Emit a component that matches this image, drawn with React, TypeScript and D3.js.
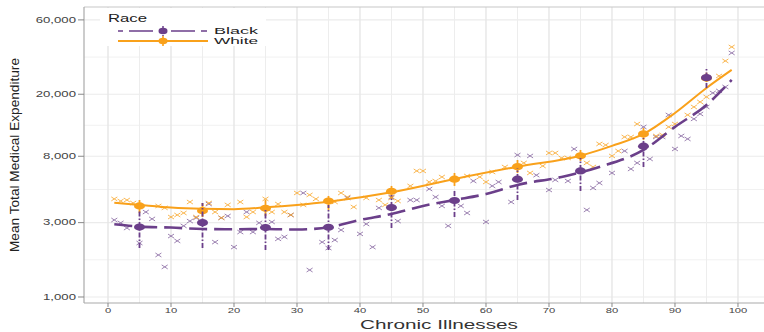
import React from "react";
import * as d3 from "d3";

// x positions of the binned means
const meanX = [5, 15, 25, 35, 45, 55, 65, 75, 85, 95];

const blackMean = [2810, 3000, 2790, 2800, 3750, 4160, 5700, 6440, 9280, 25560];
const blackLo = [2060, 2060, 2000, 2000, 2770, 3260, 4190, 4790, 6830, 21950];
const blackHi = [3620, 4010, 3730, 3900, 4520, 4790, 6730, 7800, 10480, 29500];

const whiteMean = [3840, 3580, 3710, 4130, 4770, 5700, 6860, 8060, 11130, 25400];
const whiteLo = [3460, 3260, 3310, 3620, 4260, 5160, 6250, 7460, 10180, 23960];
const whiteHi = [4190, 4010, 4190, 4450, 5160, 6250, 7570, 8780, 12150, 27500];

// smooth fit
const blackFitX = [1, 5, 10, 15, 20, 25, 30, 35, 40, 45, 50, 55, 60, 65, 72, 78, 85, 90, 95, 99];
const blackFit = [2930, 2830, 2790, 2730, 2720, 2730, 2710, 2800, 3120, 3410, 3840, 4190, 4580, 5240, 5890, 6830, 8780, 12340, 17080, 24710];
const whiteFitX = [1, 5, 10, 15, 20, 25, 30, 35, 45, 55, 65, 75, 80, 85, 90, 95, 99];
const whiteFit = [4030, 3900, 3750, 3680, 3660, 3760, 3900, 4090, 4700, 5720, 6860, 8070, 9320, 11120, 15170, 21950, 28650];

// raw observations [illnesses, expenditure]
const blackPoints: [number, number][] = [
  [1, 3120], [2, 2990], [3, 2770], [5, 2220], [6, 3510], [7, 3170], [8, 1860], [9, 1560], [10, 2460], [11, 2290],
  [12, 2860], [13, 3070], [14, 3220], [16, 3950], [17, 2250], [18, 3220], [19, 3310], [20, 2090], [21, 2610], [22, 3510],
  [23, 2610], [24, 2990], [26, 3030], [27, 2360], [28, 2430], [29, 3360], [31, 4650], [32, 1490], [34, 2250], [35, 2060],
  [36, 2320], [37, 2690], [38, 4320], [40, 2540], [41, 2940], [42, 2090], [43, 3730], [45, 4380], [46, 3070], [48, 4190],
  [49, 4190], [51, 4930], [52, 4380], [53, 3840], [54, 2860], [56, 3840], [57, 3460], [58, 5550], [60, 3030], [61, 5160],
  [62, 5470], [64, 4070], [65, 8150], [67, 8040], [68, 6050], [70, 4860], [71, 5640], [73, 5550], [74, 8910], [76, 3620],
  [77, 5010], [78, 5390], [80, 6250], [82, 8650], [83, 6630], [84, 7250], [85, 12340], [86, 7690], [87, 10640], [88, 10640],
  [89, 14730], [90, 8910], [91, 10800], [92, 10330], [93, 13890], [94, 14950], [95, 16580], [96, 20390], [97, 21010], [98, 22280],
  [99, 36820],
];
const whitePoints: [number, number][] = [
  [1, 4260], [2, 4130], [3, 4190], [4, 4010], [8, 3840], [9, 3730], [10, 3260], [11, 3360], [12, 3460], [13, 4070],
  [14, 3260], [16, 4010], [17, 3510], [18, 3220], [19, 3900], [21, 4070], [22, 3260], [23, 3510], [25, 4260], [26, 3510],
  [27, 3950], [28, 3510], [29, 3360], [30, 4650], [31, 3900], [32, 4520], [33, 4260], [36, 4070], [37, 4650], [38, 4380],
  [39, 3780], [41, 4320], [43, 4190], [44, 3900], [45, 4320], [46, 4130], [48, 5160], [49, 6440], [50, 6440], [51, 5470],
  [52, 5550], [53, 5890], [57, 5980], [59, 5890], [60, 5470], [61, 6340], [63, 6830], [66, 7250], [67, 6250], [69, 6930],
  [70, 8400], [71, 8400], [72, 7800], [73, 7800], [76, 7250], [77, 6830], [78, 9600], [79, 9450], [80, 8040], [81, 8650],
  [82, 10640], [83, 10640], [84, 12890], [87, 10800], [88, 10960], [89, 12340], [90, 12890], [92, 14730], [93, 16580], [94, 17850],
  [95, 19220], [97, 26210], [98, 32720], [99, 40230],
];

const xTicks = [0, 10, 20, 30, 40, 50, 60, 70, 80, 90, 100];
const xMinor = [5, 15, 25, 35, 45, 55, 65, 75, 85, 95];
const yTicks = [1000, 3000, 8000, 20000, 60000];

const PURPLE = "#6b3f8a";
const ORANGE = "#f9a11b";
const FONT = "'Liberation Sans', Arial, sans-serif";

function SText({ x, y, sx = 1, sy = 1, size, anchor = "middle", fill = "#444", children }: any) {
  return (
    <text
      transform={`translate(${x},${y}) scale(${sx},${sy})`}
      fontSize={size}
      textAnchor={anchor}
      fill={fill}
      fontFamily={FONT}
    >
      {children}
    </text>
  );
}

export default function App() {
  const x = d3.scaleLinear().domain([-3.81, 104.13]).range([84, 764]);
  const y = d3.scaleLog().domain([915, 72600]).range([303, 7]);
  const fmt = d3.format(",");

  const line = d3
    .line<[number, number]>()
    .x((d) => x(d[0]))
    .y((d) => y(d[1]))
    .curve(d3.curveMonotoneX);

  const blackPath = line(blackFitX.map((v, i) => [v, blackFit[i]]));
  const whitePath = line(whiteFitX.map((v, i) => [v, whiteFit[i]]));

  // minor log gridlines halfway between breaks
  const yMinor = d3.pairs(yTicks).map(([a, b]) => Math.sqrt(a * b));

  const cross = (px: number, py: number, color: string, key: string) => (
    <path
      key={key}
      d={`M${px - 3},${py - 2}L${px + 3},${py + 2}M${px - 3},${py + 2}L${px + 3},${py - 2}`}
      stroke={color}
      strokeWidth={1}
      opacity={0.75}
    />
  );

  return (
    <svg
      width={764}
      height={332}
      style={{ position: "absolute", left: 0, top: 0, background: "#fff" }}
    >
      {/* grid */}
      {yMinor.map((t) => (
        <line key={"ym" + t} x1={84} x2={764} y1={y(t)} y2={y(t)} stroke="#f1f1f1" strokeWidth={1} />
      ))}
      {yTicks.map((t) => (
        <line key={"yg" + t} x1={84} x2={764} y1={y(t)} y2={y(t)} stroke="#ebebeb" strokeWidth={1.2} />
      ))}
      {xMinor.map((t) => (
        <line key={"xm" + t} x1={x(t)} x2={x(t)} y1={7} y2={303} stroke="#ededed" strokeWidth={1} />
      ))}
      {xTicks.map((t) => (
        <line key={"xg" + t} x1={x(t)} x2={x(t)} y1={7} y2={303} stroke="#e6e6e6" strokeWidth={1.4} />
      ))}

      {/* legend box hides grid behind it */}
      <rect x={100} y={8} width={166} height={38} fill="#fff" />

      {/* panel frame */}
      <line x1={84} x2={764} y1={7} y2={7} stroke="#c8c8c8" strokeWidth={1.2} />
      <line x1={84} x2={84} y1={7} y2={303} stroke="#aaa" strokeWidth={1.2} />
      <line x1={84} x2={764} y1={303} y2={303} stroke="#aaa" strokeWidth={1.2} />

      {/* axes ticks + labels */}
      {yTicks.map((t) => (
        <g key={"yt" + t}>
          <line x1={78} x2={84} y1={y(t)} y2={y(t)} stroke="#888" />
          <SText x={76} y={y(t) + 2.6} sx={1.55} sy={1} size={8.5} anchor="end">
            {fmt(t)}
          </SText>
        </g>
      ))}
      {xTicks.map((t) => (
        <g key={"xt" + t}>
          <line x1={x(t)} x2={x(t)} y1={303} y2={307} stroke="#888" />
          <SText x={x(t)} y={313} sx={1.4} size={8}>
            {t}
          </SText>
        </g>
      ))}

      <text
        x={439}
        y={329}
        fontSize={13.5}
        textAnchor="middle"
        fill="#333"
        fontFamily={FONT}
        textLength={158}
        lengthAdjust="spacingAndGlyphs"
      >
        Chronic Illnesses
      </text>
      <text
        transform="translate(19,155) rotate(-90)"
        fontSize={13}
        textAnchor="middle"
        fill="#222"
        fontFamily={FONT}
        textLength={194}
        lengthAdjust="spacingAndGlyphs"
      >
        Mean Total Medical Expenditure
      </text>

      {/* raw points */}
      {blackPoints.map((d, i) => cross(x(d[0]), y(d[1]), "#7d5a99", "b" + i))}
      {whitePoints.map((d, i) => cross(x(d[0]), y(d[1]), ORANGE, "w" + i))}

      {/* fits */}
      <path d={whitePath ?? ""} fill="none" stroke={ORANGE} strokeWidth={2} />
      <path d={blackPath ?? ""} fill="none" stroke={PURPLE} strokeWidth={2.6} strokeDasharray="18,7" />

      {/* means with error bars */}
      {meanX.map((m, i) => (
        <g key={"wm" + m}>
          <line x1={x(m)} x2={x(m)} y1={y(whiteLo[i])} y2={y(whiteHi[i])} stroke={ORANGE} strokeWidth={1.8} />
          <ellipse cx={x(m)} cy={y(whiteMean[i])} rx={5.5} ry={3.6} fill={ORANGE} />
        </g>
      ))}
      {meanX.map((m, i) => (
        <g key={"bm" + m}>
          <line
            x1={x(m)}
            x2={x(m)}
            y1={y(blackLo[i])}
            y2={y(blackHi[i])}
            stroke={PURPLE}
            strokeWidth={1.8}
            strokeDasharray="5,2,1.5,2"
          />
          <ellipse cx={x(m)} cy={y(blackMean[i])} rx={5.5} ry={3.6} fill={PURPLE} />
        </g>
      ))}

      {/* legend */}
      <text x={108} y={21.5} fontSize={10} fill="#222" fontFamily={FONT} textLength={39} lengthAdjust="spacingAndGlyphs">
        Race
      </text>
      <line x1={118} x2={208} y1={31} y2={31} stroke={PURPLE} strokeWidth={1.6} strokeDasharray="6,6,24,6" strokeDashoffset={1} />
      <line x1={163} x2={163} y1={26} y2={36} stroke={PURPLE} strokeWidth={1.5} strokeDasharray="3,1.5" />
      <ellipse cx={163} cy={31} rx={4.5} ry={3.2} fill={PURPLE} />
      <line x1={118} x2={208} y1={41} y2={41} stroke={ORANGE} strokeWidth={1.8} />
      <line x1={163} x2={163} y1={36} y2={46} stroke={ORANGE} strokeWidth={1.6} />
      <ellipse cx={163} cy={41} rx={4.5} ry={3.2} fill={ORANGE} />
      <text x={214} y={34.3} fontSize={8.6} fill="#222" fontFamily={FONT} textLength={44} lengthAdjust="spacingAndGlyphs">
        Black
      </text>
      <text x={214} y={44.3} fontSize={8.6} fill="#222" fontFamily={FONT} textLength={44} lengthAdjust="spacingAndGlyphs">
        White
      </text>
    </svg>
  );
}
